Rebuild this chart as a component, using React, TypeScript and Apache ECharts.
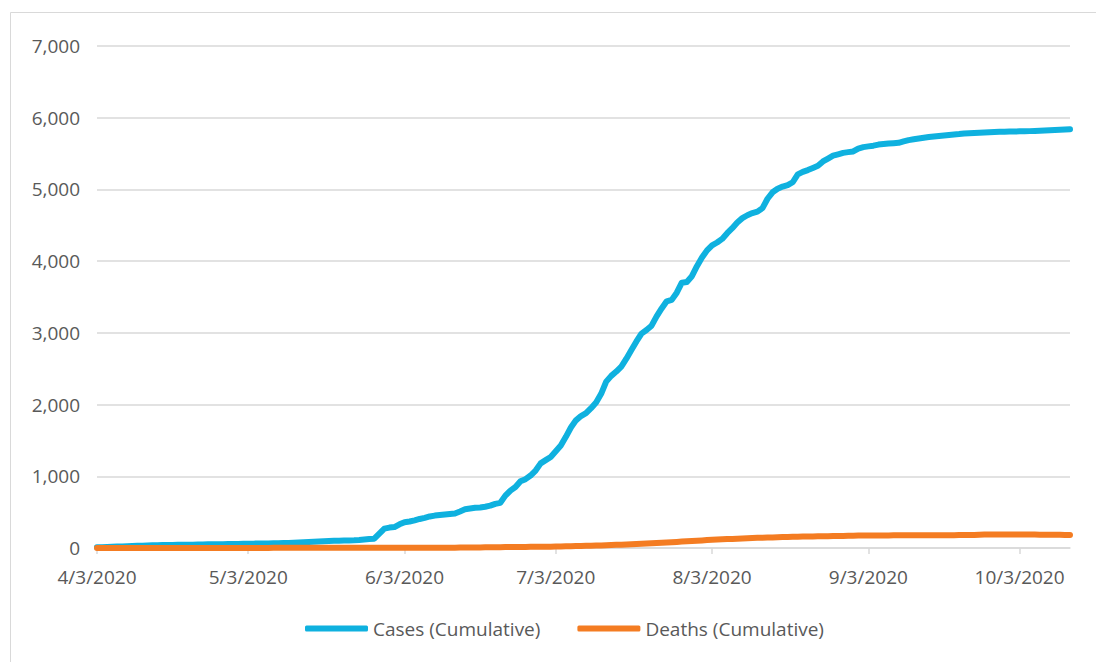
import React, { useEffect, useRef } from "react";
import * as echarts from "echarts";

const startDate = { year: 2020, month: 4, day: 3 };

const casesCumulative: number[] = [
  10, 12, 14, 17, 20, 22, 24, 27, 30, 33,
  36, 38, 40, 41, 42, 43, 44, 45, 46, 47,
  48, 50, 51, 52, 53, 54, 55, 56, 57, 58,
  60, 61, 62, 63, 64, 65, 66, 68, 71, 74,
  77, 80, 83, 86, 90, 95, 98, 100, 102, 104,
  106, 108, 112, 118, 125, 130, 200, 270, 285, 292,
  330, 360, 370, 385, 405, 420, 440, 452, 460, 468,
  475, 482, 510, 540, 550, 560, 565, 575, 590, 615,
  630, 730, 800, 850, 930, 960, 1010, 1080, 1180, 1225,
  1270, 1350, 1430, 1550, 1680, 1780, 1840, 1880, 1950, 2030,
  2150, 2320, 2400, 2460, 2530, 2640, 2760, 2880, 2990, 3040,
  3100, 3230, 3340, 3440, 3460, 3560, 3700, 3710, 3790, 3930,
  4050, 4150, 4220, 4260, 4310, 4390, 4460, 4540, 4600, 4640,
  4670, 4690, 4740, 4870, 4960, 5010, 5040, 5060, 5100, 5210,
  5245, 5270, 5300, 5330, 5390, 5430, 5470, 5490, 5510, 5520,
  5530, 5570, 5590, 5600, 5610, 5625, 5632, 5640, 5645, 5650,
  5670, 5688, 5700, 5710, 5720, 5730, 5738, 5745, 5752, 5760,
  5766, 5772, 5780, 5784, 5788, 5792, 5795, 5798, 5800, 5803,
  5805, 5807, 5808, 5810, 5812, 5813, 5815, 5818, 5822, 5826,
  5829, 5832, 5835, 5838,
];

const deathsCumulative: number[] = [
  0, 0, 0, 0, 0, 0, 0, 0, 0, 0,
  0, 0, 0, 0, 0, 0, 0, 0, 0, 0,
  1, 1, 1, 1, 1, 1, 1, 1, 1, 1,
  1, 1, 1, 1, 1, 2, 2, 2, 2, 2,
  2, 2, 2, 2, 2, 2, 2, 2, 3, 3,
  3, 3, 3, 3, 3, 3, 3, 3, 4, 4,
  4, 4, 4, 4, 4, 4, 4, 5, 5, 5,
  5, 5, 6, 6, 7, 7, 8, 9, 10, 11,
  12, 13, 13, 14, 15, 15, 16, 17, 18, 19,
  19, 20, 22, 24, 25, 27, 29, 30, 32, 34,
  35, 38, 41, 44, 47, 50, 53, 56, 60, 63,
  66, 70, 73, 77, 81, 85, 89, 93, 97, 101,
  105, 110, 115, 118, 121, 124, 127, 130, 133, 136,
  140, 142, 144, 146, 148, 150, 152, 154, 156, 158,
  160, 161, 162, 163, 164, 165, 166, 167, 168, 170,
  172, 173, 174, 175, 175, 176, 176, 176, 177, 177,
  177, 177, 178, 178, 178, 178, 178, 179, 179, 179,
  179, 180, 180, 180, 180, 186, 187, 187, 187, 187,
  187, 187, 187, 187, 187, 187, 187, 186, 186, 185,
  185, 184, 183, 182,
];

const yTicks: number[] = [0, 1000, 2000, 3000, 4000, 5000, 6000, 7000];

const seriesNames = ["Cases (Cumulative)", "Deaths (Cumulative)"];
const seriesColors = ["#0FB1DF", "#F47C22"];

function buildDates(count: number): string[] {
  const out: string[] = [];
  const d = new Date(startDate.year, startDate.month - 1, startDate.day);
  for (let i = 0; i < count; i++) {
    out.push(`${d.getMonth() + 1}/${d.getDate()}/${d.getFullYear()}`);
    d.setDate(d.getDate() + 1);
  }
  return out;
}

const categories = buildDates(casesCumulative.length);

const FONT = "'Open Sans', 'Noto Sans', sans-serif";
const TEXT_COLOR = "#595959";
const GRID_COLOR = "#d9d9d9";

export default function App() {
  const ref = useRef<HTMLDivElement>(null);

  useEffect(() => {
    if (!ref.current) return;
    const chart = echarts.init(ref.current, undefined, { renderer: "svg" });
    const isMonthTick = (_i: number, v: string) => v.split("/")[1] === "3";
    chart.setOption({
      animation: false,
      backgroundColor: "#ffffff",
      textStyle: { fontFamily: FONT },
      graphic: [
        {
          type: "rect",
          shape: { x: 10.5, y: 12.5, width: 1100, height: 700 },
          style: { fill: "none", stroke: GRID_COLOR, lineWidth: 1 },
          silent: true,
        },
      ],
      grid: { left: 97, right: 26, top: 46, bottom: 114, containLabel: false },
      legend: {
        data: seriesNames,
        bottom: 19,
        left: 300,
        icon: "roundRect",
        itemWidth: 63,
        itemHeight: 6,
        itemGap: 37,
        textStyle: { color: TEXT_COLOR, fontSize: 19, fontFamily: FONT, padding: [0, 0, 0, 0] },
      },
      xAxis: {
        type: "category",
        data: categories,
        boundaryGap: false,
        axisLine: { lineStyle: { color: GRID_COLOR, width: 1.5 } },
        axisTick: { show: true, interval: isMonthTick, length: 6, lineStyle: { color: GRID_COLOR, width: 1.5 } },
        axisLabel: {
          interval: isMonthTick,
          color: TEXT_COLOR,
          fontSize: 19,
          fontFamily: FONT,
          margin: 19,
        },
        splitLine: { show: false },
      },
      yAxis: {
        type: "value",
        min: yTicks[0],
        max: yTicks[yTicks.length - 1],
        interval: 1000,
        axisLine: { show: false },
        axisTick: { show: false },
        axisLabel: {
          color: TEXT_COLOR,
          fontSize: 19,
          fontFamily: FONT,
          margin: 17,
          formatter: (v: number) => v.toLocaleString("en-US"),
        },
        splitLine: { lineStyle: { color: GRID_COLOR, width: 1.5 } },
      },
      series: [
        {
          name: seriesNames[0],
          type: "line",
          data: casesCumulative,
          showSymbol: false,
          symbol: "none",
          color: seriesColors[0],
          lineStyle: { width: 6, color: seriesColors[0], cap: "round", join: "round" },
          z: 3,
        },
        {
          name: seriesNames[1],
          type: "line",
          data: deathsCumulative,
          showSymbol: false,
          symbol: "none",
          color: seriesColors[1],
          lineStyle: { width: 6, color: seriesColors[1], cap: "round", join: "round" },
          z: 4,
        },
      ],
    });
    return () => chart.dispose();
  }, []);

  return (
    <div
      ref={ref}
      style={{ position: "fixed", left: 0, top: 0, width: 1096, height: 662, background: "#fff" }}
    />
  );
}
